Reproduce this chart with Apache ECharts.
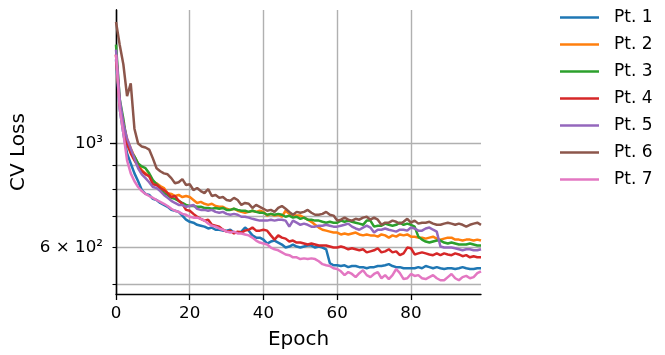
<!DOCTYPE html>
<html>
<head>
<meta charset="utf-8">
<script src="https://cdn.jsdelivr.net/npm/echarts@6/dist/echarts.min.js"></script>
<style>
html,body{margin:0;padding:0;background:#fff;}
#chart{width:665px;height:355px;}
</style>
</head>
<body>
<div id="chart"></div>
<script>
// ---- data ----
const seriesNames = ['Pt. 1','Pt. 2','Pt. 3','Pt. 4','Pt. 5','Pt. 6','Pt. 7'];
const colors = ['#1f77b4','#ff7f0e','#2ca02c','#d62728','#9467bd','#8c564b','#e377c2'];
const xTicks = [0, 20, 40, 60, 80];
const yTicksMinor = [500, 600, 700, 800, 900];
const yTicksMajor = [1000];
const yLabelValues = [600, 1000];
const yLabelText = {600: '6 × 10²', 1000: '10³'};

const pt1 = [1512,1186,1050,953,907,864,831,796,781,777,
762,758,747,740,733,722,719,715,702,688,
681,678,671,668,665,659,662,655,655,652,
652,655,646,646,649,662,652,637,630,630,
624,612,618,621,615,609,600,603,609,603,
600,603,606,606,600,603,600,595,556,550,
550,548,550,545,548,548,545,545,542,545,
545,548,548,550,553,548,545,545,542,542,
542,542,545,542,548,545,542,545,542,540,
542,542,540,542,545,542,540,540,542,542];

const pt2 = [1549,1215,1102,1025,976,939,907,877,864,852,
831,823,812,804,784,781,773,777,769,773,
769,758,747,751,744,740,744,736,733,733,
726,722,726,719,715,712,715,719,715,719,
715,702,708,702,705,698,719,708,705,702,
702,695,688,681,671,662,655,652,649,646,
646,640,643,640,643,646,640,637,640,637,
637,633,640,637,630,637,633,640,637,640,
633,633,630,630,627,630,633,627,624,627,
630,630,624,624,621,624,624,621,624,621];

const pt3 = [1626,1245,1129,1000,962,939,907,894,886,864,
836,819,804,784,777,766,762,755,747,740,
736,736,733,733,729,729,726,729,726,729,
722,722,726,722,719,719,715,719,715,712,
712,705,708,705,708,705,698,702,695,698,
691,695,688,688,685,685,681,678,681,678,
678,685,681,685,681,678,675,671,685,685,
665,668,668,675,671,668,671,678,671,675,
671,665,633,624,618,615,618,621,621,615,
612,615,612,609,609,609,612,609,606,606];

const pt4 = [1549,1215,1102,1000,953,921,894,873,860,852,
819,816,804,796,784,769,773,755,744,722,
719,708,698,691,685,688,671,668,665,655,
649,652,643,649,646,652,655,662,652,652,
655,652,637,624,637,630,627,618,621,615,
615,612,609,612,609,606,606,606,603,600,
600,603,600,595,598,595,592,595,586,589,
592,598,586,589,595,586,589,578,583,600,
598,580,583,586,583,580,578,583,578,583,
580,578,583,580,575,578,572,575,572,572];

const pt5 = [1587,1245,1102,1025,976,930,886,860,844,827,
808,804,792,777,766,755,747,740,740,733,
736,740,726,722,722,719,722,715,712,715,
708,705,708,705,698,698,695,691,688,685,
685,685,688,685,688,688,685,665,685,678,
671,675,671,665,665,668,668,671,668,665,
665,668,671,675,665,659,655,662,668,662,
646,655,655,659,655,652,649,655,655,652,
662,659,652,652,659,662,655,649,603,600,
600,600,598,595,592,595,595,592,592,595];

const pt6 = [1818,1626,1475,1263,1345,1076,1000,986,981,971,
930,886,873,864,860,844,823,827,840,816,
819,796,804,792,784,800,773,777,766,769,
758,755,766,758,740,747,744,729,740,733,
726,719,722,715,729,736,726,715,705,715,
712,715,722,712,705,705,708,715,705,702,
685,688,695,688,685,691,688,695,698,688,
695,688,671,678,678,685,681,675,681,691,
678,685,675,678,678,681,675,671,671,675,
678,675,671,675,671,665,671,675,678,671];

const pt7 = [1549,1186,1050,921,864,831,808,792,781,773,
766,758,751,744,736,726,719,715,708,705,
698,695,695,691,685,675,668,665,659,655,
649,646,649,643,643,640,637,630,621,615,
612,609,600,595,592,586,580,578,572,572,
567,569,567,569,567,561,553,550,548,542,
540,534,524,532,527,519,529,537,524,519,
527,532,516,524,514,524,540,529,514,516,
527,522,524,516,514,519,524,516,511,511,
519,527,516,511,519,522,516,519,529,534];

const allSeries = [pt1, pt2, pt3, pt4, pt5, pt6, pt7];

// ---- chart ----
const FONT = 'DejaVu Sans';
const chart = echarts.init(document.getElementById('chart'), null, {renderer: 'canvas'});

const gridLine = {show: true, lineStyle: {color: '#b0b0b0', width: 1.4}};

const yBase = {
  type: 'log',
  logBase: 10,
  min: 477.6,
  max: 1928,
  position: 'left',
  axisLine: {show: true, lineStyle: {color: '#000', width: 1.3}},
};

const option = {
  animation: false,
  backgroundColor: '#fff',
  color: colors,
  textStyle: {fontFamily: FONT},
  grid: {left: 116, right: 184, top: 10, bottom: 58, containLabel: false},
  legend: {
    orient: 'vertical',
    left: 555,
    top: 4,
    icon: 'rect',
    itemWidth: 39,
    itemHeight: 2.6,
    itemGap: 10,
    textStyle: {fontFamily: FONT, fontSize: 17, color: '#000', lineHeight: 17, padding: [0, 0, 0, 10]},
    data: seriesNames
  },
  xAxis: {
    type: 'value',
    min: 0,
    max: 99,
    name: 'Epoch',
    nameLocation: 'middle',
    nameGap: 36,
    nameTextStyle: {fontFamily: FONT, fontSize: 20, color: '#000'},
    axisLine: {show: true, lineStyle: {color: '#000', width: 1.3}},
    axisTick: {show: true, length: 6, lineStyle: {color: '#000', width: 1.3}, customValues: xTicks},
    axisLabel: {fontFamily: FONT, fontSize: 16.7, color: '#000', margin: 11, customValues: xTicks},
    splitLine: gridLine
  },
  yAxis: [
    Object.assign({}, yBase, {
      name: 'CV Loss',
      nameLocation: 'middle',
      nameGap: 86,
      nameRotate: 90,
      nameTextStyle: {fontFamily: FONT, fontSize: 20, color: '#000'},
      axisTick: {show: true, length: 3.5, lineStyle: {color: '#000', width: 1.1}, customValues: yTicksMinor.concat(yTicksMajor)},
      axisLabel: {
        show: true, fontFamily: FONT, fontSize: 16.7, color: '#000', margin: 13,
        customValues: yLabelValues,
        formatter: function (v) { return yLabelText[Math.round(v)] || ''; }
      },
      splitLine: gridLine
    }),
    Object.assign({}, yBase, {
      axisTick: {show: true, length: 6, lineStyle: {color: '#000', width: 1.3}, customValues: yTicksMajor},
      axisLabel: {show: false},
      splitLine: {show: false}
    })
  ],
  series: allSeries.map(function (arr, i) {
    return {
      name: seriesNames[i],
      type: 'line',
      yAxisIndex: 0,
      showSymbol: false,
      symbol: 'none',
      smooth: false,
      clip: true,
      lineStyle: {width: 2.5, color: colors[i]},
      itemStyle: {color: colors[i]},
      data: arr.map(function (v, k) { return [k, v]; })
    };
  })
};
chart.setOption(option);
</script>
</body>
</html>
